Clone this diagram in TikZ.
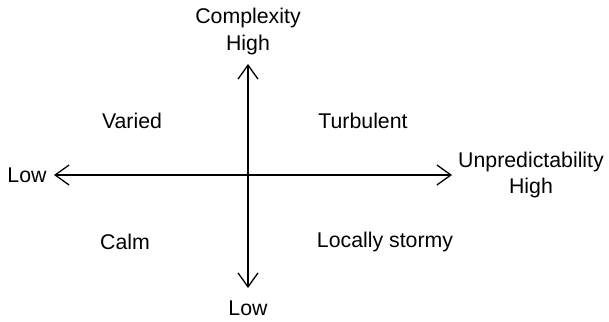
\documentclass[tikz,border=0pt]{standalone}
\usepackage{fontspec}
\setmainfont{Liberation Sans}
\usetikzlibrary{arrows.meta}
\begin{document}
\begin{tikzpicture}[x=1pt,y=-1pt,
  lbl/.style={font=\fontsize{21.3}{25}\selectfont, inner sep=0pt, align=center},
  axis/.style={line width=1.3pt, {Straight Barb[length=14pt,width=20pt,line width=1.3pt]}-{Straight Barb[length=14pt,width=20pt,line width=1.3pt]}}]
\useasboundingbox (0,0) rectangle (609,321);
\coordinate (top) at (248,64);
\coordinate (bot) at (248,288);
\coordinate (left) at (54,175);
\coordinate (right) at (452,175);
\draw[axis] (top) -- (bot);
\draw[axis] (left) -- (right);
\node[lbl] (cx) at (248,18) {Complexity};
\node[lbl] (ch) at (248,45) {High};
\node[lbl] (var) at (132,121) {Varied};
\node[lbl] (tur) at (363,121) {Turbulent};
\node[lbl] (lowl) at (27,175) {Low};
\node[lbl] (un) at (531,162) {Unpredictability};
\node[lbl] (uh) at (531,188) {High};
\node[lbl] (calm) at (125,242) {Calm};
\node[lbl] (ls) at (385,242) {Locally stormy};
\node[lbl] (lowb) at (248,308) {Low};
\end{tikzpicture}
\end{document}
